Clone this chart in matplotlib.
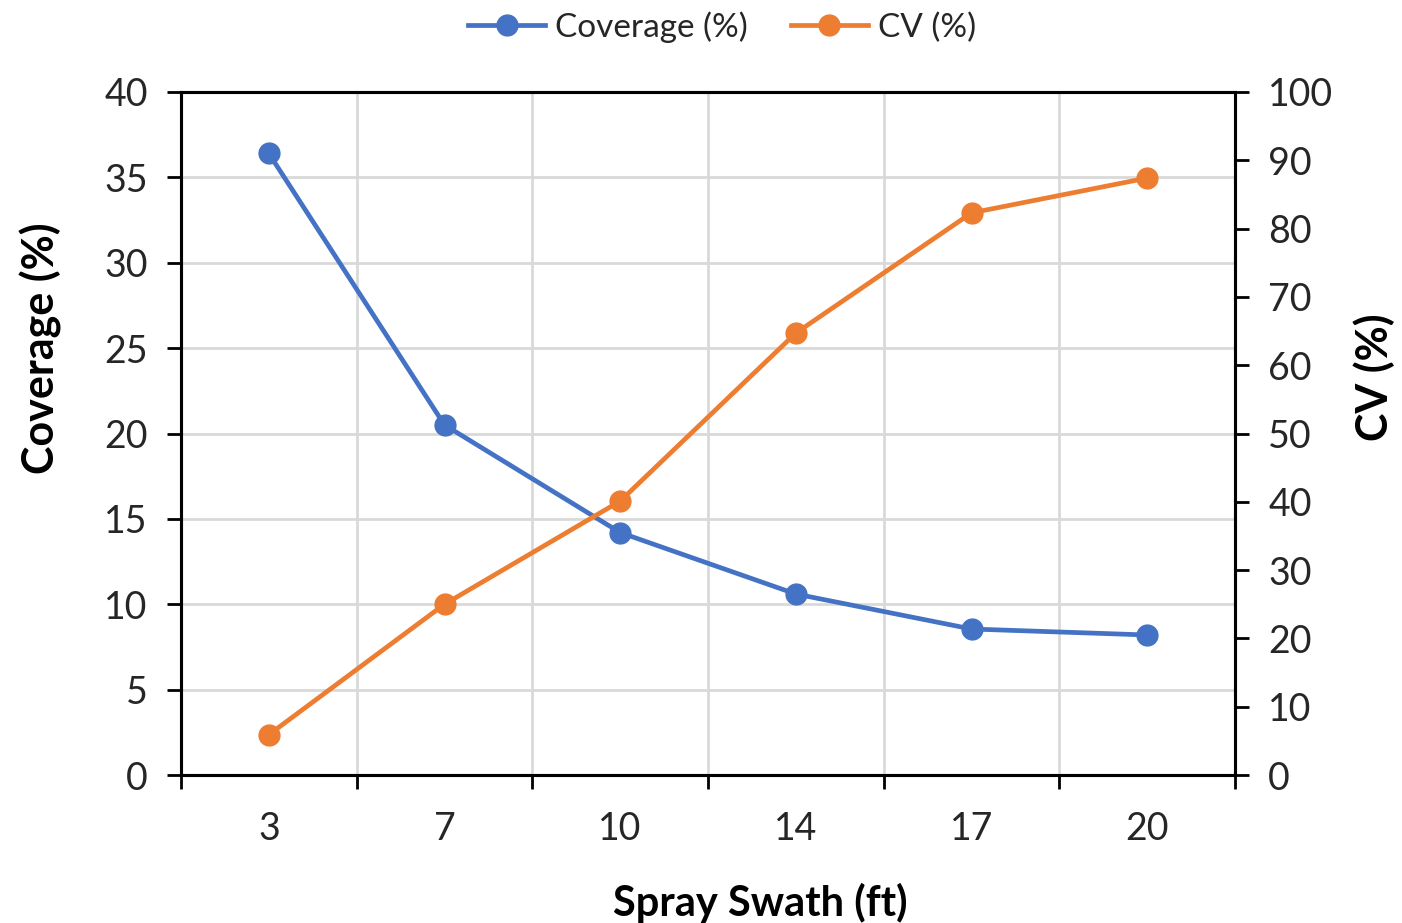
import numpy as np
import matplotlib
matplotlib.use('Agg')
import matplotlib.pyplot as plt
from matplotlib.lines import Line2D

plt.rcParams['font.family'] = ['Lato', 'DejaVu Sans']

swath = ['3', '7', '10', '14', '17', '20']
coverage = [36.4, 20.5, 14.2, 10.6, 8.55, 8.2]
cv = [5.9, 25.0, 40.1, 64.7, 82.3, 87.4]

blue = '#4472C4'
orange = '#ED7D31'
txt = '#262626'
fs = 27      # tick labels
lfs = 31     # axis titles

fig = plt.figure(figsize=(14.02, 9.23), dpi=100)
ax = fig.add_axes([181/1402, 1-775/923, (1235-181)/1402, (775-92)/923])
ax2 = ax.twinx()

x = np.arange(len(swath))
ax.plot(x, coverage, color=blue, lw=3.4, marker='o', ms=15, zorder=5)
ax2.plot(x, cv, color=orange, lw=3.4, marker='o', ms=15, zorder=5)

# category axis: ticks/grid at boundaries, labels at centres
ax.set_xlim(-0.5, len(swath) - 0.5)
ax.set_xticks(np.arange(-0.5, len(swath)), labels=[])
ax.set_xticks(x, labels=swath, minor=True)
ax.tick_params(axis='x', which='major', direction='out', length=10, width=2)
ax.tick_params(axis='x', which='minor', length=0, pad=26, labelsize=fs, labelcolor=txt)

ax.set_ylim(0, 40)
ax.set_yticks(np.arange(0, 41, 5))
ax.tick_params(axis='y', direction='out', length=10, width=2, pad=14, labelsize=fs, labelcolor=txt)
ax2.set_ylim(0, 100)
ax2.set_yticks(np.arange(0, 101, 10))
ax2.tick_params(axis='y', direction='out', length=10, width=2, pad=14, labelsize=fs, labelcolor=txt)

ax.grid(True, which='major', color='#D9D9D9', lw=2)
ax.set_axisbelow(True)
for a in (ax, ax2):
    for s in a.spines.values():
        s.set_linewidth(2.2)
        s.set_color('black')

ax.set_xlabel('Spray Swath (ft)', fontsize=lfs - 1, fontweight='bold')
ax.set_ylabel('Coverage (%)', fontsize=lfs, fontweight='bold')
ax2.set_ylabel('CV (%)', fontsize=lfs, fontweight='bold')
ax.xaxis.set_label_coords(0.55, -0.158)
ax.yaxis.set_label_coords(-0.113, 0.625)
ax2.yaxis.set_label_coords(1.112, 0.583)

handles = [Line2D([], [], color=blue, lw=3.4, marker='o', ms=15),
           Line2D([], [], color=orange, lw=3.4, marker='o', ms=15)]
leg = fig.legend(handles, ['Coverage (%)', 'CV (%)'], loc='upper center',
                 bbox_to_anchor=(0.515, 1.02), ncol=2, frameon=False, fontsize=24,
                 handlelength=2.3, columnspacing=1.3, handletextpad=0.3)
for t in leg.get_texts():
    t.set_color(txt)

fig.savefig('out.png', dpi=100)
